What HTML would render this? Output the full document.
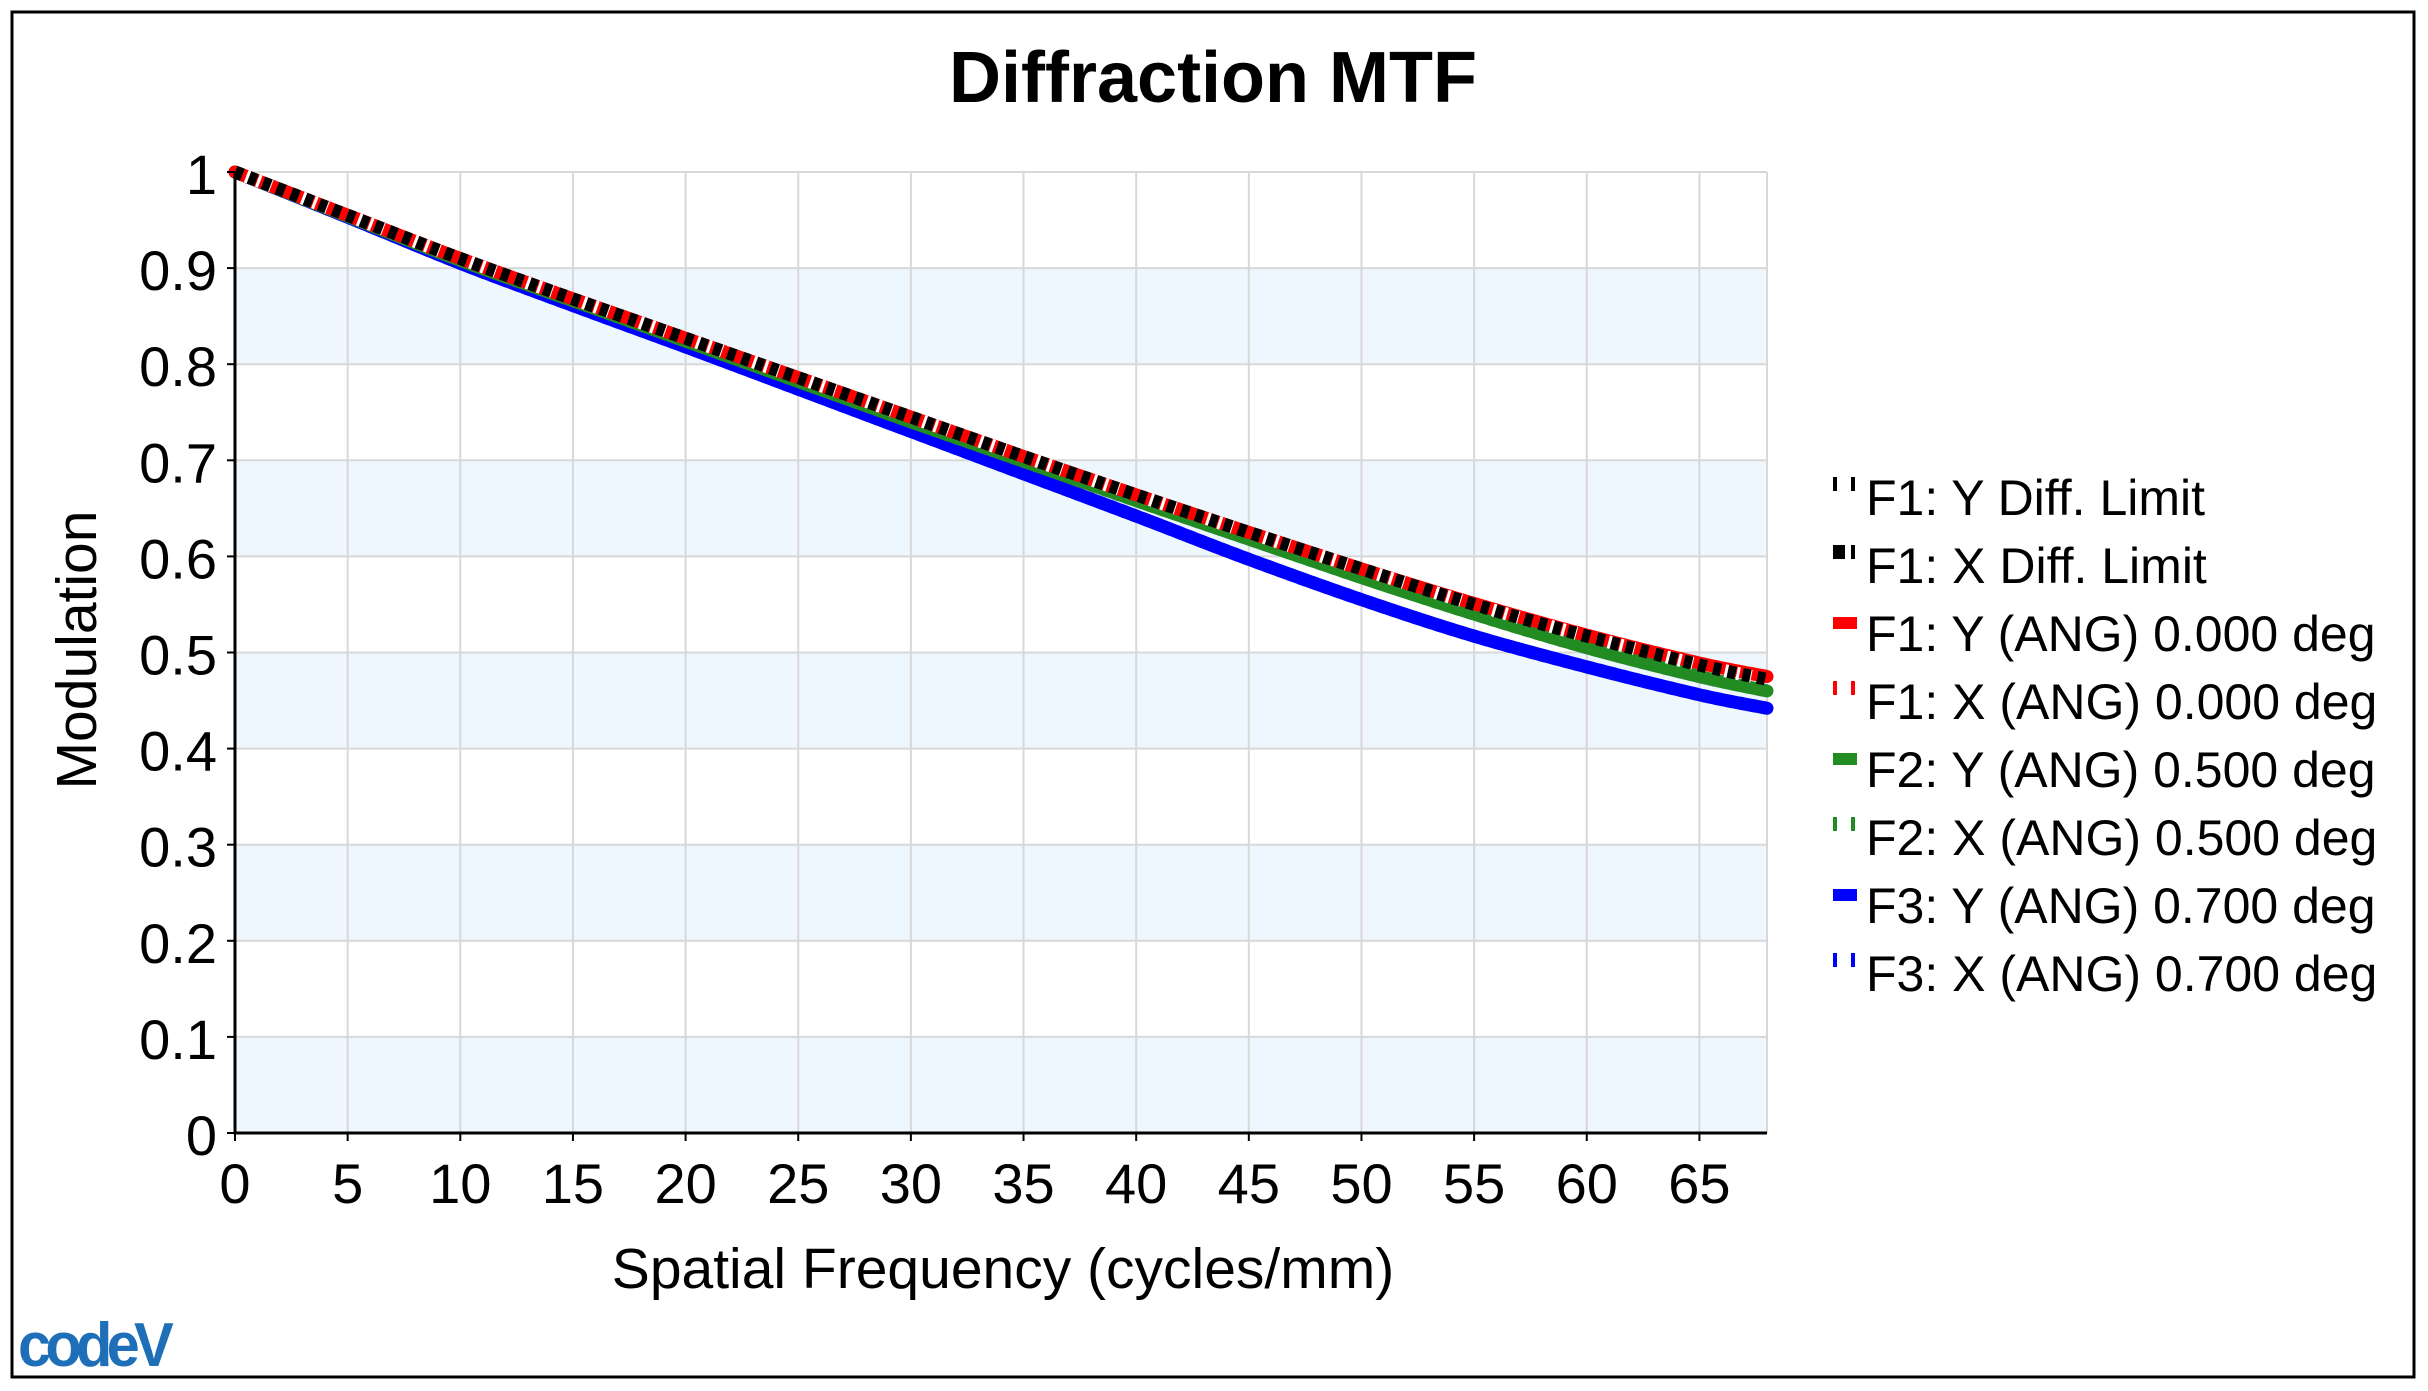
<!DOCTYPE html>
<html><head><meta charset="utf-8"><style>
html,body{margin:0;padding:0;background:#fff}
svg{display:block}
text{font-family:"Liberation Sans",Arial,sans-serif;fill:#000}
</style></head><body>
<svg id="chart" width="2428" height="1391" viewBox="0 0 2428 1391" xmlns="http://www.w3.org/2000/svg">
<rect x="12" y="12" width="2402" height="1365" fill="#fff" stroke="#000" stroke-width="3"/>
<text x="1213" y="102" font-size="72" font-weight="bold" text-anchor="middle">Diffraction MTF</text>
<g id="bands"></g><g id="grid"></g><g id="series"></g><g id="axes"></g><g id="legend"></g>
<text x="1003" y="1288" font-size="57" text-anchor="middle">Spatial Frequency (cycles/mm)</text>
<text x="0" y="0" font-size="57" text-anchor="middle" transform="translate(96,650) rotate(-90)">Modulation</text>
<g>
<text x="18" y="1366" font-size="62" font-weight="bold" fill="#1e6fb8" style="fill:#1e6fb8;letter-spacing:-6px" textLength="150" lengthAdjust="spacingAndGlyphs">codeV</text>
</g>
</svg>
<script>
const xTicks=[0,5,10,15,20,25,30,35,40,45,50,55,60,65];
const yTicks=[0,0.1,0.2,0.3,0.4,0.5,0.6,0.7,0.8,0.9,1];
const yTickLabels=["0","0.1","0.2","0.3","0.4","0.5","0.6","0.7","0.8","0.9","1"];
const freq=[0,5,10,15,20,25,30,35,40,45,50,55,60,65,68];
const diffY=[1,0.955,0.91,0.868,0.827,0.786,0.745,0.704,0.664,0.625,0.587,0.55,0.517,0.487,0.472];
const diffX=[1,0.955,0.91,0.868,0.827,0.786,0.745,0.704,0.664,0.625,0.587,0.55,0.517,0.487,0.472];
const f1Y=[1,0.955,0.91,0.868,0.827,0.786,0.745,0.704,0.664,0.625,0.587,0.551,0.518,0.489,0.475];
const f1X=[1,0.955,0.91,0.868,0.827,0.786,0.745,0.704,0.664,0.625,0.587,0.551,0.518,0.489,0.475];
const f2Y=[1,0.954,0.908,0.866,0.824,0.782,0.74,0.699,0.658,0.618,0.578,0.54,0.505,0.475,0.46];
const f2X=[1,0.954,0.908,0.866,0.824,0.782,0.74,0.699,0.658,0.618,0.578,0.54,0.505,0.475,0.46];
const f3Y=[1,0.953,0.905,0.861,0.818,0.774,0.73,0.686,0.642,0.597,0.555,0.517,0.485,0.456,0.442];
const f3X=[1,0.953,0.905,0.861,0.818,0.774,0.73,0.686,0.642,0.597,0.555,0.517,0.485,0.456,0.442];
const legendLabels=["F1: Y Diff. Limit","F1: X Diff. Limit","F1: Y (ANG) 0.000 deg","F1: X (ANG) 0.000 deg","F2: Y (ANG) 0.500 deg","F2: X (ANG) 0.500 deg","F3: Y (ANG) 0.700 deg","F3: X (ANG) 0.700 deg"];

const NS="http://www.w3.org/2000/svg";
const X0=235,X1=1767,XMAX=68,Y0=1133,Y1=172;
const sx=v=>X0+(X1-X0)*v/XMAX;
const sy=v=>Y0-(Y0-Y1)*v;
function mk(tag,parent,attrs){const e=document.createElementNS(NS,tag);for(const k in attrs)e.setAttribute(k,attrs[k]);document.getElementById(parent).appendChild(e);return e;}

for(let i=0;i<10;i+=2){
 const r=mk('rect','bands',{x:X0,y:sy(yTicks[i+1]),width:X1-X0,height:sy(yTicks[i])-sy(yTicks[i+1]),fill:'#eef6fe'});
 
 
}
xTicks.forEach(t=>{
 const l=mk('line','grid',{x1:sx(t),x2:sx(t),y1:Y1,y2:Y0,stroke:'#d8d8d8','stroke-width':2});
 
 
 const tk=mk('line','axes',{x1:sx(t),x2:sx(t),y1:Y0,y2:Y0+8,stroke:'#000','stroke-width':2});
 
 
 const tx=mk('text','axes',{x:sx(t),y:1203,'font-size':56,'text-anchor':'middle'});
 tx.textContent=t;
 
 
});
mk('line','grid',{x1:X1,x2:X1,y1:Y1,y2:Y0,stroke:'#d8d8d8','stroke-width':2});
yTicks.forEach((t,i)=>{
 const l=mk('line','grid',{x1:X0,x2:X1,y1:sy(t),y2:sy(t),stroke:'#d8d8d8','stroke-width':2});
 
 
 const tk=mk('line','axes',{x1:X0-8,x2:X0,y1:sy(t),y2:sy(t),stroke:'#000','stroke-width':2});
 
 
 const tx=mk('text','axes',{x:217,y:sy(t)+22,'font-size':56,'text-anchor':'end'});
 tx.textContent=yTickLabels[i];
 
 
});
const ax=mk('path','axes',{d:`M${X0},${Y1}V${Y0}H${X1}`,fill:'none',stroke:'#000','stroke-width':3});



function pathFor(arr){
 const p=arr.map((v,i)=>[sx(freq[i]),sy(v)]);
 let d=`M${p[0][0]},${p[0][1]}`;
 for(let i=0;i<p.length-1;i++){
  const a=p[Math.max(0,i-1)],b=p[i],c=p[i+1],e=p[Math.min(p.length-1,i+2)];
  d+=`C${b[0]+(c[0]-a[0])/6},${b[1]+(c[1]-a[1])/6} ${c[0]-(e[0]-b[0])/6},${c[1]-(e[1]-b[1])/6} ${c[0]},${c[1]}`;
 }
 return d;
}
const seriesDefs=[
 [f3Y,'#0000ff',null,'series-f3-y'],[f3X,'#0000ff','6 6','series-f3-x'],
 [f2Y,'#228b22',null,'series-f2-y'],[f2X,'#228b22','6 6','series-f2-x'],
 [f1Y,'#ff0000',null,'series-f1-y'],[f1X,'#ff0000','6 6','series-f1-x'],
 [diffY,'#ffffff','3 9','series-f1-y-diff-limit'],[diffX,'#000000','8 7','series-f1-x-diff-limit']
];
seriesDefs.forEach(s=>{
 const a={d:pathFor(s[0]),fill:'none',stroke:s[1],'stroke-width':13,'stroke-linecap':'round'};
 if(s[2]){a['stroke-dasharray']=s[2];a['stroke-linecap']='butt';}
 const p=mk('path','series',a);
 
 
});
const legCols=['#ffffff','#000000','#ff0000','#ff0000','#228b22','#228b22','#0000ff','#0000ff'];
legendLabels.forEach((lab,i)=>{
 const y=499+i*68;
 const g=mk('g','legend',{});
 
 
 const solid=(i%2===0)&&i>0;
 if(solid){const r=document.createElementNS(NS,'rect');r.setAttribute('x',1833);r.setAttribute('y',y-18);r.setAttribute('width',24);r.setAttribute('height',12);r.setAttribute('fill',legCols[i]);g.appendChild(r);}
 else{
  const c=i===0?'#000':legCols[i];
  [[1833,i===1?12:4],[1851,4]].forEach(q=>{const r=document.createElementNS(NS,'rect');r.setAttribute('x',q[0]);r.setAttribute('y',y-22);r.setAttribute('width',q[1]);r.setAttribute('height',14);r.setAttribute('fill',c);g.appendChild(r);});
 }
 const t=document.createElementNS(NS,'text');
 t.setAttribute('x',1866);t.setAttribute('y',y+16);t.setAttribute('font-size',50);
 t.textContent=lab;g.appendChild(t);
});
</script>
</body></html>
